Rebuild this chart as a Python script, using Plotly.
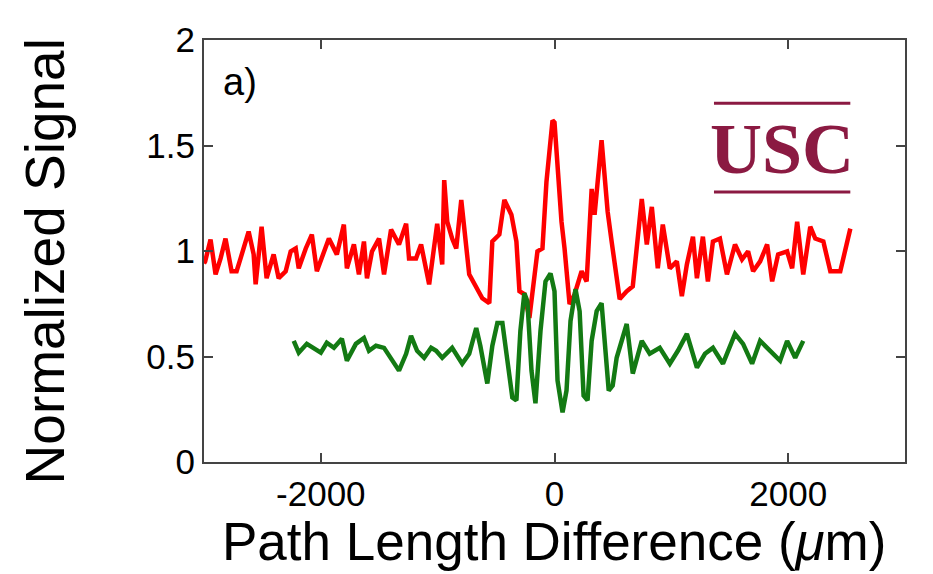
import plotly.graph_objects as go

# ---- data ----
red_x = [-3000, -2990, -2944, -2901, -2858, -2816, -2764, -2721, -2687, -2618, -2575, -2558, -2507,
         -2464, -2404, -2361, -2301, -2258, -2215, -2189, -2129, -2077, -2034, -1974, -1931, -1863,
         -1803, -1777, -1717, -1674, -1631, -1605, -1562, -1502, -1459, -1399, -1331, -1270, -1245,
         -1185, -1142, -1073, -1004, -961, -944, -918, -876, -841, -798, -730, -670, -618, -558,
         -532, -472, -429, -369, -326, -300, -258, -215, -146, -103, -69, -17, 0, 60, 86, 129, 172,
         232, 275, 318, 343, 403, 455, 489, 558, 618, 670, 747, 790, 833, 884, 927, 987, 1047,
         1090, 1133, 1185, 1219, 1270, 1313, 1356, 1416, 1476, 1545, 1605, 1657, 1700, 1760, 1820,
         1863, 1914, 1991, 2034, 2077, 2129, 2189, 2232, 2301, 2361, 2446, 2532]
red_y = [0.941, 0.951, 1.054, 0.889, 0.965, 1.059, 0.904, 0.904, 0.965, 1.092, 0.984, 0.842, 1.115,
         0.871, 0.984, 0.871, 0.904, 0.998, 1.012, 0.918, 1.012, 1.078, 0.904, 0.998, 1.059, 0.984,
         1.125, 0.918, 1.031, 0.889, 1.045, 0.871, 0.998, 1.059, 0.889, 1.101, 1.031, 1.129, 0.965,
         0.965, 1.031, 0.842, 1.129, 0.936, 1.336, 1.139, 1.059, 1.012, 1.242, 0.889, 0.824, 0.776,
         0.753, 1.045, 1.078, 1.242, 1.172, 1.045, 0.809, 0.795, 0.682, 0.998, 1.012, 1.327, 1.619,
         1.609, 1.139, 1.012, 0.748, 0.795, 0.904, 0.856, 1.294, 1.172, 1.525, 1.186, 1.045, 0.772,
         0.809, 0.833, 1.247, 1.031, 1.209, 0.918, 1.125, 0.918, 0.951, 0.786, 0.936, 1.068, 0.871,
         1.068, 0.856, 1.045, 1.059, 0.889, 1.031, 0.960, 0.998, 0.904, 0.951, 1.031, 0.856, 0.984,
         0.998, 0.918, 1.139, 0.889, 1.115, 1.059, 1.045, 0.904, 0.904, 1.106]

green_x = [-2232, -2189, -2120, -2060, -2000, -1949, -1888, -1820, -1777, -1700, -1631, -1588,
           -1528, -1459, -1399, -1331, -1270, -1228, -1176, -1116, -1056, -1013, -961, -876, -790,
           -730, -670, -635, -575, -532, -489, -446, -403, -361, -326, -292, -258, -232, -197,
           -163, -120, -77, -34, 0, 26, 69, 103, 137, 180, 215, 249, 283, 318, 361, 403, 429, 464,
           498, 532, 618, 670, 747, 815, 901, 987, 1056, 1133, 1219, 1288, 1356, 1442, 1545, 1614,
           1691, 1760, 1846, 1931, 1991, 2060, 2129]
green_y = [0.574, 0.518, 0.560, 0.536, 0.518, 0.565, 0.541, 0.584, 0.480, 0.560, 0.588, 0.527,
           0.551, 0.541, 0.489, 0.433, 0.513, 0.598, 0.527, 0.494, 0.541, 0.527, 0.494, 0.541,
           0.466, 0.513, 0.635, 0.551, 0.372, 0.551, 0.659, 0.659, 0.480, 0.306, 0.292, 0.621,
           0.800, 0.762, 0.433, 0.278, 0.621, 0.856, 0.894, 0.809, 0.386, 0.235, 0.339, 0.668,
           0.819, 0.715, 0.315, 0.292, 0.574, 0.715, 0.753, 0.574, 0.339, 0.362, 0.494, 0.654,
           0.419, 0.574, 0.513, 0.541, 0.466, 0.527, 0.607, 0.447, 0.513, 0.541, 0.466, 0.607,
           0.560, 0.466, 0.574, 0.527, 0.480, 0.574, 0.494, 0.574]

x_tick_vals = [-2000, 0, 2000]
x_tick_text = ["-2000", "0", "2000"]
y_tick_vals = [0, 0.5, 1, 1.5, 2]
y_tick_text = ["0", "0.5", "1", "1.5", "2"]

FONT = "Liberation Sans, Arial, Helvetica, sans-serif"
LOGO = "#8B1A42"

fig = go.Figure()
fig.add_trace(go.Scatter(x=red_x, y=red_y, mode="lines",
                         line=dict(color="#FF0000", width=4.5), showlegend=False))
fig.add_trace(go.Scatter(x=green_x, y=green_y, mode="lines",
                         line=dict(color="#137A13", width=4.5), showlegend=False))

axis_common = dict(showline=True, linecolor="#444444", linewidth=2, mirror="ticks",
                   ticks="inside", ticklen=9, tickwidth=1.5, tickcolor="#444444",
                   showgrid=False, zeroline=False,
                   tickfont=dict(family=FONT, size=35, color="black"))

fig.update_xaxes(range=[-3000, 3000], tickvals=x_tick_vals, ticktext=x_tick_text, **axis_common)
fig.update_yaxes(range=[0, 2], tickvals=y_tick_vals, ticktext=y_tick_text, **axis_common)

# USC logo lines (in data units)
fig.add_shape(type="line", x0=1365, x1=2532, y0=1.70, y1=1.70, xref="x", yref="y",
              line=dict(color=LOGO, width=3))
fig.add_shape(type="line", x0=1365, x1=2532, y0=1.28, y1=1.28, xref="x", yref="y",
              line=dict(color=LOGO, width=3))

fig.add_annotation(x=1950, y=1.485, xref="x", yref="y", text="<b>USC</b>", showarrow=False,
                   font=dict(family="Liberation Serif, Times New Roman, serif", size=72, color=LOGO),
                   xanchor="center", yanchor="middle")

fig.add_annotation(x=-2858, y=1.80, xref="x", yref="y", text="a)", showarrow=False,
                   font=dict(family=FONT, size=38, color="black"), xanchor="left", yanchor="middle")

fig.add_annotation(x=0.499, y=-0.262, xref="paper", yref="paper",
                   text="Path Length Difference (<i>μ</i>m)", showarrow=False,
                   font=dict(family=FONT, size=53, color="black"), xanchor="center", yanchor="bottom")
fig.add_annotation(x=-0.227, y=0.475, xref="paper", yref="paper", textangle=-90,
                   text="Normalized Signal", showarrow=False,
                   font=dict(family=FONT, size=55, color="black"), xanchor="center", yanchor="middle")

fig.update_layout(width=933, height=574, margin=dict(l=196, r=36, t=29, b=120),
                  paper_bgcolor="white", plot_bgcolor="white")

fig.write_html("out.html")
